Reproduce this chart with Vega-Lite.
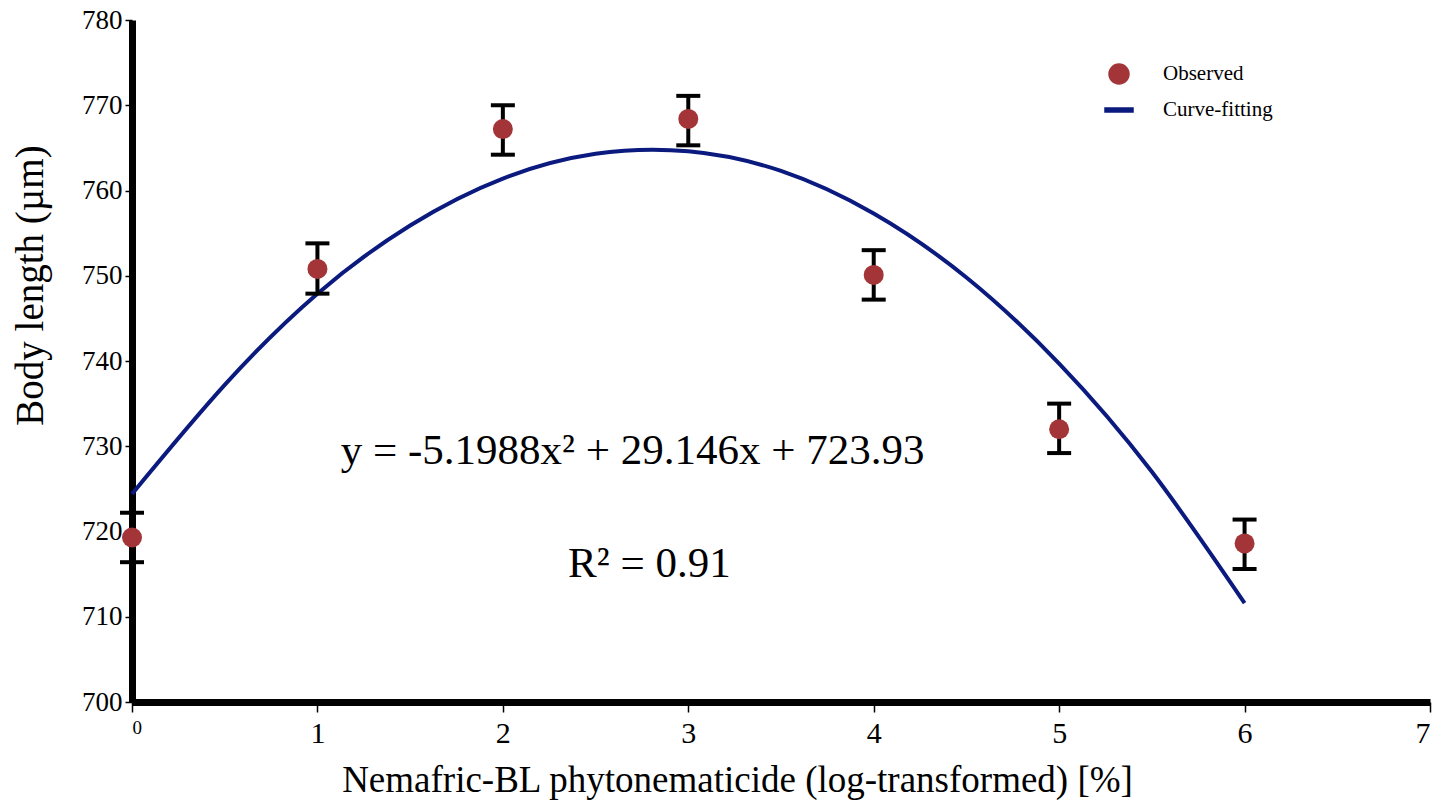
{
  "$schema": "https://vega.github.io/schema/vega-lite/v6.json",
  "width": 1298,
  "height": 682,
  "autosize": {"type": "none"},
  "padding": {"left": 132, "top": 20, "right": 14, "bottom": 100},
  "background": "white",
  "config": {
    "view": {"stroke": null},
    "font": "Liberation Serif",
    "axis": {"grid": false, "domainColor": "black", "domainWidth": 7, "tickColor": "black", "tickWidth": 1.5, "labelColor": "black", "titleColor": "black", "labelFont": "Liberation Serif", "titleFont": "Liberation Serif", "titleFontWeight": "normal"}
  },
  "datasets": {
    "obs": [
      {"x": 0, "y": 719.3, "lo": 716.4, "hi": 722.2, "series": "Observed"},
      {"x": 1, "y": 750.8, "lo": 747.9, "hi": 753.8, "series": "Observed"},
      {"x": 2, "y": 767.2, "lo": 764.2, "hi": 770.0, "series": "Observed"},
      {"x": 3, "y": 768.4, "lo": 765.3, "hi": 771.1, "series": "Observed"},
      {"x": 4, "y": 750.1, "lo": 747.2, "hi": 753.0, "series": "Observed"},
      {"x": 5, "y": 732.0, "lo": 729.2, "hi": 735.0, "series": "Observed"},
      {"x": 6, "y": 718.6, "lo": 715.6, "hi": 721.4, "series": "Observed"}
    ],
    "fit": [
      {"x": 0, "y": 724.4, "series": "Curve-fitting"},
      {"x": 0.5, "y": 737.2, "series": "Curve-fitting"},
      {"x": 1, "y": 747.9, "series": "Curve-fitting"},
      {"x": 1.5, "y": 755.9, "series": "Curve-fitting"},
      {"x": 2, "y": 761.4, "series": "Curve-fitting"},
      {"x": 2.5, "y": 764.3, "series": "Curve-fitting"},
      {"x": 3, "y": 764.6, "series": "Curve-fitting"},
      {"x": 3.5, "y": 762.3, "series": "Curve-fitting"},
      {"x": 4, "y": 757.3, "series": "Curve-fitting"},
      {"x": 4.5, "y": 749.8, "series": "Curve-fitting"},
      {"x": 5, "y": 739.7, "series": "Curve-fitting"},
      {"x": 5.5, "y": 727.0, "series": "Curve-fitting"},
      {"x": 6, "y": 711.6, "series": "Curve-fitting"}
    ],
    "notes": [
      {"x": 2.7, "y": 729.4, "label": "y = -5.1988x² + 29.146x + 723.93"},
      {"x": 2.79, "y": 716.2, "label": "R² = 0.91"}
    ]
  },
  "layer": [
    {
      "data": {"name": "fit"},
      "mark": {"type": "line", "strokeWidth": 4, "interpolate": "natural"},
      "encoding": {
        "x": {"field": "x", "type": "quantitative", "scale": {"domain": [0, 7], "nice": false}, "axis": {
          "title": "Nemafric-BL phytonematicide (log-transformed) [%]",
          "values": [0, 1, 2, 3, 4, 5, 6, 7],
          "format": "d",
          "labelFontSize": {"condition": {"test": "datum.value == 0", "value": 19}, "value": 30},
          "tickSize": 10, "labelPadding": 6, "titleFontSize": 37,
          "titleX": 605, "titleY": 60, "titleBaseline": "top"
        }},
        "y": {"field": "y", "type": "quantitative", "scale": {"domain": [700, 780], "nice": false, "zero": false}, "axis": {
          "title": "Body length (µm)",
          "values": [700, 710, 720, 730, 740, 750, 760, 770, 780],
          "labelFontSize": 27, "tickSize": 7, "labelPadding": 3, "titleFontSize": 39,
          "titleX": -102, "titleY": 265, "titleBaseline": "middle"
        }},
        "color": {"field": "series", "type": "nominal", "scale": {"domain": ["Observed", "Curve-fitting"], "range": ["#A33539", "#0B1A7E"]}, "legend": {
          "title": null, "orient": "none", "legendX": 976, "legendY": 43, "labelFontSize": 21, "symbolSize": 400, "rowPadding": 12, "labelOffset": 33, "labelFont": "Liberation Serif"
        }}
      }
    },
    {
      "data": {"name": "obs"},
      "mark": {"type": "rule", "strokeWidth": 4, "color": "black"},
      "encoding": {
        "x": {"field": "x", "type": "quantitative"},
        "y": {"field": "lo", "type": "quantitative"},
        "y2": {"field": "hi"}
      }
    },
    {
      "data": {"name": "obs"},
      "mark": {"type": "tick", "orient": "horizontal", "size": 24, "thickness": 4, "color": "black", "opacity": 1},
      "encoding": {
        "x": {"field": "x", "type": "quantitative"},
        "y": {"field": "lo", "type": "quantitative"}
      }
    },
    {
      "data": {"name": "obs"},
      "mark": {"type": "tick", "orient": "horizontal", "size": 24, "thickness": 4, "color": "black", "opacity": 1},
      "encoding": {
        "x": {"field": "x", "type": "quantitative"},
        "y": {"field": "hi", "type": "quantitative"}
      }
    },
    {
      "data": {"name": "obs"},
      "mark": {"type": "point", "filled": true, "opacity": 1, "size": 400},
      "encoding": {
        "x": {"field": "x", "type": "quantitative"},
        "y": {"field": "y", "type": "quantitative"},
        "color": {"field": "series", "type": "nominal"},
        "shape": {"field": "series", "type": "nominal", "scale": {"domain": ["Observed", "Curve-fitting"], "range": ["circle", "M-1.4,-0.2L1.4,-0.2L1.4,0.2L-1.4,0.2Z"]}}
      }
    },
    {
      "data": {"name": "notes"},
      "mark": {"type": "text", "fontSize": 43, "font": "Liberation Serif", "color": "black", "baseline": "middle", "align": "center"},
      "encoding": {
        "x": {"field": "x", "type": "quantitative"},
        "y": {"field": "y", "type": "quantitative"},
        "text": {"field": "label"}
      }
    }
  ]
}
